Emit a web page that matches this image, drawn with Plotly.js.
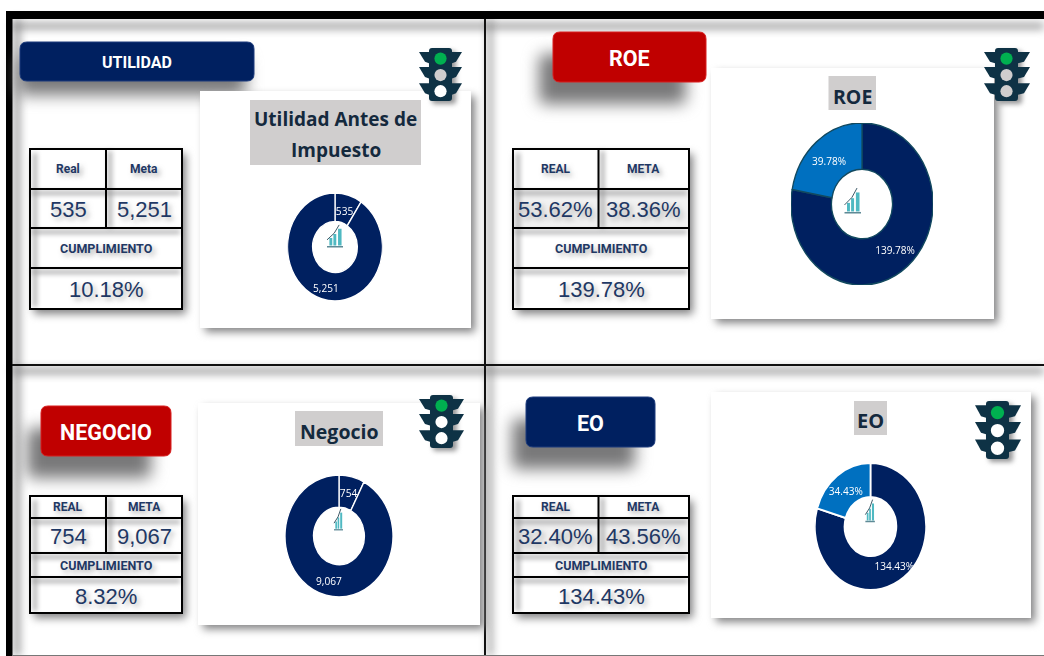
<!DOCTYPE html>
<html><head><meta charset="utf-8">
<script src="https://cdn.plot.ly/plotly-3.0.1.min.js"></script>
<style>
html,body{margin:0;padding:0;background:#fff;overflow:hidden;width:1044px;height:656px}
#main{position:absolute;left:0;top:0;width:1044px;height:656px}
.pie{position:absolute}
path[style*="rgb(120, 120, 121)"]{filter:blur(8px)}
path[style*="rgb(130, 130, 131)"]{filter:blur(4px)}
path[style*="rgb(150, 150, 151)"]{filter:blur(2.5px)}
</style></head><body>
<div id="main"></div>
<div id="p0" class="pie"></div><div id="p1" class="pie"></div><div id="p2" class="pie"></div><div id="p3" class="pie"></div>
<script>
// ---- data ----
const badgeLabels = ['UTILIDAD','ROE','NEGOCIO','EO'];
const chartTitles = [['Utilidad Antes de','Impuesto'],['ROE'],['Negocio'],['EO']];
const headerReal = ['Real','REAL','REAL','REAL'];
const headerMeta = ['Meta','META','META','META'];
const headerCompliance = 'CUMPLIMIENTO';
const realValues = ['535','53.62%','754','32.40%'];
const metaValues = ['5,251','38.36%','9,067','43.56%'];
const complianceValues = ['10.18%','139.78%','8.32%','134.43%'];
const utilidadSlices = [535, 5251];
const roeSlices = [139.78, 39.78];
const negocioSlices = [754, 9067];
const eoSlices = [134.43, 34.43];
const utilidadLabels = ['535','5,251'];
const roeLabels = ['139.78%','39.78%'];
const negocioLabels = ['754','9,067'];
const eoLabels = ['134.43%','34.43%'];
const sliceSets = [utilidadSlices, roeSlices, negocioSlices, eoSlices];
const labelSets = [utilidadLabels, roeLabels, negocioLabels, eoLabels];

// ---- styling and layout ----
const NAVY='#002060', BLUE='#0070c0', RED='#c00000', INK='#1f3864', DARK='#14293d', BOXG='#d0cece', LIGHT='#0e3245';
const BLUR_L='rgb(120,120,121)', BLUR_M='rgb(130,130,131)', BLUR_S='rgb(150,150,151)';
const panels = [
 {badge:[20,42,254,81], bcol:NAVY, bfs:16, bshadow:[-2,14], table:[30,149,182,309], mid:106, rows:[189,228,268], hfs:12, gray:false,
  panel:[200,91,471,328], tbox:[250,100,421,165], ty:[119,150], tfs:19,
  pie:{cx:335,cy:247,rx:47.5,ry:54,hole:0.47}, pieColors:[NAVY,NAVY], line:'#ffffff', lw:1.5, labelAt:[[345,210],[326,287]],
  icon:[327,224,343,247], tl:{body:[429,48,452,101],wing:[419,462],lamps:['#00b050','#d0cece','#ffffff']}},
 {badge:[553,32,706,82], bcol:RED, bfs:21.5, bshadow:[-14,22], table:[513,149,689,309], mid:598.5, rows:[189,228,268], hfs:12, gray:true,
  panel:[711,68,994,319], tbox:[828.5,76,876,110], ty:[96], tfs:19.5,
  pie:{cx:862,cy:204,rx:71,ry:81,hole:0.43}, pieColors:[NAVY,BLUE], line:'#12495f', lw:1.5, labelAt:[[895,250],[829,160]],
  icon:[844.5,187,861,213], tl:{body:[995,48,1018,101],wing:[984,1030],lamps:['#00b050','#d0cece','#d0cece']}},
 {badge:[41,406,171,456], bcol:RED, bfs:21.5, bshadow:[-14,22], table:[30,496,182,613], mid:106, rows:[518,553,577], hfs:12, gray:false,
  panel:[198,403,480,625], tbox:[295,411,383,446], ty:[431], tfs:19.5,
  pie:{cx:339,cy:536,rx:54,ry:61,hole:0.47}, pieColors:[NAVY,NAVY], line:'#ffffff', lw:1.5, labelAt:[[349,493],[329,580]],
  icon:[334,508,343,530], tl:{body:[430,395,453,448],wing:[419,464],lamps:['#00b050','#ffffff','#ffffff']}},
 {badge:[526,397,655,447], bcol:NAVY, bfs:21.5, bshadow:[-14,22], table:[513,496,689,613], mid:598.5, rows:[518,553,577], hfs:12, gray:true,
  panel:[711,392,1031,618], tbox:[854,401,887,435], ty:[420], tfs:20,
  pie:{cx:870.6,cy:526.7,rx:55.5,ry:63.3,hole:0.465}, pieColors:[NAVY,BLUE], line:'#ffffff', lw:2, labelAt:[[894.6,565.7],[846,490.7]],
  icon:[865.5,499,875,522], tl:{body:[986,401,1009,459],wing:[975,1021],lamps:['#00b050','#ffffff','#ffffff']}}
];

const shapes=[], ann=[];
function rect(x0,y0,x1,y1,fill,line,lw){shapes.push({type:'rect',xref:'x',yref:'y',x0,y0,x1,y1,fillcolor:fill,line:{color:line||fill,width:line?(lw||1):0}});}
function ln(x0,y0,x1,y1,color,w){shapes.push({type:'line',xref:'x',yref:'y',x0,y0,x1,y1,line:{color,width:w}});}
function path(d,fill,line,lw){shapes.push({type:'path',xref:'x',yref:'y',path:d,fillcolor:fill,line:{color:line||fill,width:line?(lw||1):0}});}
function rr(x0,y0,x1,y1,r){return `M${x0+r},${y0} L${x1-r},${y0} Q${x1},${y0} ${x1},${y0+r} L${x1},${y1-r} Q${x1},${y1} ${x1-r},${y1} L${x0+r},${y1} Q${x0},${y1} ${x0},${y1-r} L${x0},${y0+r} Q${x0},${y0} ${x0+r},${y0} Z`;}
function circle(cx,cy,r,fill){shapes.push({type:'circle',xref:'x',yref:'y',x0:cx-r,x1:cx+r,y0:cy-r,y1:cy+r,fillcolor:fill,line:{width:0}});}
function txt(x,y,text,size,color,family,bold,shadow){
  ann.push({xref:'x',yref:'y',x,y,text:bold?`<b>${text}</b>`:text,showarrow:false,xanchor:'center',yanchor:'middle',
    font:{size,color,family,shadow:shadow||'none'}});
}
const TS='3px 3px 5px rgba(110,110,110,0.5)';

// frame shadows then frame
ln(12,26,1044,26,BLUR_M,5);
ln(17,19,17,656,BLUR_M,5);
ln(490,19,490,656,BLUR_M,4);
ln(12,371,1044,371,BLUR_M,5);
rect(6,11,1044,19,'#000000');
rect(6,11,12.5,656,'#000000');
ln(485,19,485,656,'#111111',2);
ln(12,365,1044,365,'#111111',2);
ln(12,655.5,1044,655.5,'#777777',1);

panels.forEach((p,i)=>{
  // badge
  const b=p.badge;
  path(rr(b[0]+p.bshadow[0],b[1]+p.bshadow[1],b[2]+p.bshadow[0]-6,b[3]+p.bshadow[1],6),BLUR_L);
  path(rr(b[0],b[1],b[2],b[3],7),p.bcol,p.bcol===RED?'#d81f1f':'#1c3b7c',1);
  txt((b[0]+b[2])/2,(b[1]+b[3])/2+1,badgeLabels[i],p.bfs,'#ffffff','Roboto, Arial',true);

  // table
  const t=p.table, r=p.rows;
  rect(t[0]+4,t[1]+5,t[2]+4,t[3]+5,BLUR_M);
  rect(t[0],t[1],t[2],t[3],'#ffffff');
  if(p.gray) rect(t[0],r[0],t[2],r[1],'#f2f2f2');
  r.forEach(y=>ln(t[0]+2,y+4,t[2]-2,y+4,BLUR_S,3));
  ln(p.mid+4,t[1]+2,p.mid+4,r[1],BLUR_S,3);
  ln(t[0]+5,t[1]+4,t[0]+5,t[3]-2,BLUR_S,3);
  rect(t[0],t[1],t[2],t[3],'rgba(0,0,0,0)','#000000',2);
  r.forEach(y=>ln(t[0],y,t[2],y,'#000000',2));
  ln(p.mid,t[1],p.mid,r[1],'#000000',2);
  const c1=(t[0]+p.mid)/2, c2=(p.mid+t[2])/2, cc=(t[0]+t[2])/2;
  const hf='Roboto, Arial';
  txt(c1,(t[1]+r[0])/2,headerReal[i],p.hfs,INK,hf,true,TS);
  txt(c2,(t[1]+r[0])/2,headerMeta[i],p.hfs,INK,hf,true,TS);
  txt(c1,(r[0]+r[1])/2+1,realValues[i],22,INK,'Liberation Sans',false,TS);
  txt(c2,(r[0]+r[1])/2+1,metaValues[i],22,INK,'Liberation Sans',false,TS);
  txt(cc,(r[1]+r[2])/2,headerCompliance,12.5,INK,hf,true,TS);
  txt(cc,(r[2]+t[3])/2+1,complianceValues[i],22,INK,'Liberation Sans',false,TS);

  // chart card
  const q=p.panel;
  rect(q[0]+5,q[1]+5,q[2]+4,q[3]+4,BLUR_M);
  rect(q[0],q[1],q[2],q[3],'#ffffff');
  const tb=p.tbox;
  rect(tb[0],tb[1],tb[2],tb[3],BOXG);
  chartTitles[i].forEach((s,k)=>txt((tb[0]+tb[2])/2,p.ty[k],s,p.tfs,DARK,'Open Sans',true));

  // traffic light
  const tl=p.tl, B=tl.body, H=B[3]-B[1], W=tl.wing;
  path(rr(B[0]+3,B[1]+3,B[2]+4,B[3]+3,3),BLUR_S);
  [0.075,0.36,0.665].forEach(f=>{
    const y0=B[1]+H*f, y1=y0+H*0.215;
    path(`M${W[0]},${y0} L${B[0]},${y0} L${B[0]},${y1} L${W[0]+6},${y1-1.5} Z`,LIGHT);
    path(`M${W[1]},${y0} L${B[2]},${y0} L${B[2]},${y1} L${W[1]-6},${y1-1.5} Z`,LIGHT);
  });
  path(rr(B[0],B[1],B[2],B[3],3),LIGHT);
  const cx=(B[0]+B[2])/2;
  [0.2,0.51,0.815].forEach((f,k)=>circle(cx,B[1]+H*f,H*0.115,tl.lamps[k]));
});

Plotly.newPlot('main',[],{
  width:1044,height:656,margin:{l:0,r:0,t:0,b:0},showlegend:false,
  paper_bgcolor:'#ffffff',plot_bgcolor:'#ffffff',
  xaxis:{range:[0,1044],visible:false,fixedrange:true},
  yaxis:{range:[656,0],visible:false,fixedrange:true},
  shapes,annotations:ann
},{staticPlot:true,displayModeBar:false});

// the source chart was squeezed horizontally: each donut is drawn by Plotly, then narrowed with CSS
panels.forEach((p,i)=>{
  const g=p.pie, el=document.getElementById('p'+i), S=2*g.ry;
  el.style.left=(g.cx-g.ry)+'px'; el.style.top=(g.cy-g.ry)+'px';
  el.style.width=S+'px'; el.style.height=S+'px';
  el.style.transform=`scaleX(${g.rx/g.ry})`;
  const ic=p.icon, px=x=>0.5+(x-g.cx)/(2*g.rx), py=y=>0.5-(y-g.cy)/(2*g.ry);
  const iw=ic[2]-ic[0], ih=ic[3]-ic[1], isz=[];
  const R=(a,b,c,d,col)=>isz.push({type:'rect',xref:'paper',yref:'paper',x0:px(ic[0]+a*iw),x1:px(ic[0]+c*iw),y0:py(ic[1]+b*ih),y1:py(ic[1]+d*ih),fillcolor:col,line:{width:0}});
  R(-0.1,-0.02,1.1,1.05,'#ffffff');
  R(0.15,0.61,0.33,0.94,'#4fb9c2'); R(0.4,0.43,0.58,0.94,'#4fb9c2'); R(0.69,0.21,0.91,0.94,'#4fb9c2');
  R(0,0.96,1,1.02,'#5f8a96');
  isz.push({type:'path',xref:'paper',yref:'paper',
    path:`M${px(ic[0])},${py(ic[1]+0.69*ih)} L${px(ic[0]+0.45*iw)},${py(ic[1]+0.4*ih)} L${px(ic[0]+0.76*iw)},${py(ic[1]+0.04*ih)}`,
    line:{color:'#33505f',width:1}});
  const labels=labelSets[i].map((s,k)=>({xref:'paper',yref:'paper',x:px(p.labelAt[k][0]),y:py(p.labelAt[k][1]),text:s,showarrow:false,
    xanchor:'center',yanchor:'middle',font:{size:11.5,color:'#ffffff',family:'Open Sans'}}));
  Plotly.newPlot(el,[{
    type:'pie',values:sliceSets[i],textinfo:'none',
    hole:g.hole,sort:false,direction:'clockwise',rotation:0,
    marker:{colors:p.pieColors,line:{color:p.line,width:p.lw}},
    domain:{x:[0,1],y:[0,1]},hoverinfo:'skip'
  }],{width:S,height:S,margin:{l:0,r:0,t:0,b:0},showlegend:false,
     paper_bgcolor:'rgba(0,0,0,0)',plot_bgcolor:'rgba(0,0,0,0)',shapes:isz,annotations:labels},
  {staticPlot:true,displayModeBar:false});
});
</script>
</body></html>
